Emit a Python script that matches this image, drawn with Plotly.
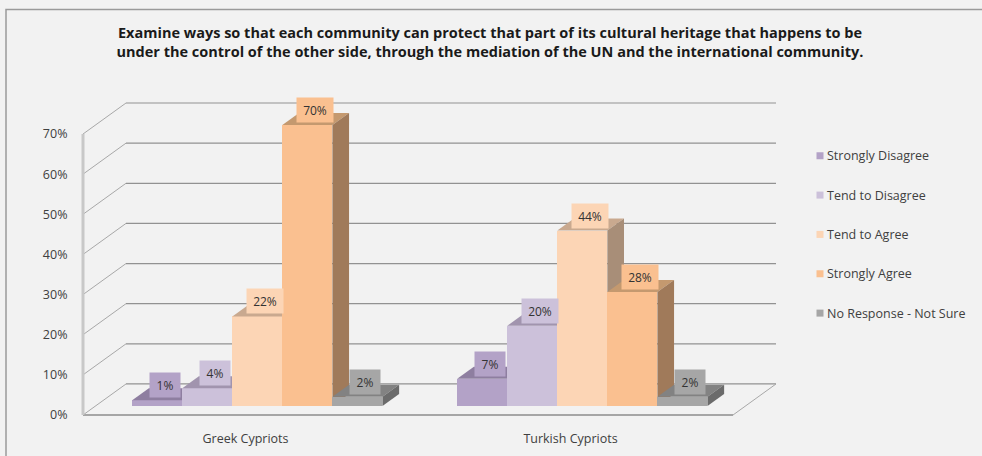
import plotly.graph_objects as go

TITLE = ("Examine ways so that each community can protect that part of its cultural heritage that happens to be<br>"
         "under the control of the other side, through the mediation of the UN and the international community.")
categories = ["Greek Cypriots", "Turkish Cypriots"]
series = ["Strongly Disagree", "Tend to Disagree", "Tend to Agree", "Strongly Agree", "No Response - Not Sure"]
strongly_disagree = [1.4, 6.8]
tend_to_disagree = [4.4, 20]
tend_to_agree = [22.3, 43.7]
strongly_agree = [70, 28.4]
no_response = [2.3, 2.3]
values = [strongly_disagree, tend_to_disagree, tend_to_agree, strongly_agree, no_response]
y_ticks = [0, 10, 20, 30, 40, 50, 60, 70]
y_tick_labels = ["0%", "10%", "20%", "30%", "40%", "50%", "60%", "70%"]

front = ["#b3a2c7", "#ccc1da", "#fcd5b5", "#fac090", "#a6a6a6"]
top = ["#8e7ea0", "#a194ae", "#c9a98f", "#c4996f", "#828282"]
side = ["#75678a", "#8b8096", "#a88e78", "#a07a5a", "#6b6b6b"]

FONT = "Open Sans"
W, H = 982, 456
L, B = 83, 415          # pixel of the front-left floor corner
PAD = 4                 # plot area kept left of / below the corner so wall lines are not clipped
RIGHT_PX = 978          # plot area runs under the legend column so its swatches are not clipped
CAT_PX = 325
PX_PER_PCT = 4.01
DX, DY = 43, 31
d_front, d_back = 9 / 31, 21 / 31
GAP = 0.113
BAR_W = (1 - 2 * 0.115) / 5
X_MIN, X_MAX = -PAD / CAT_PX, (RIGHT_PX - L) / CAT_PX
Y_MIN, Y_MAX = -PAD / PX_PER_PCT, 70 + (DY + PAD) / PX_PER_PCT
PLOT_W = (X_MAX - X_MIN) * CAT_PX
PLOT_H = (Y_MAX - Y_MIN) * PX_PER_PCT
PLOT_L = L - PAD
PLOT_T = B + PAD - PLOT_H


def proj(u, v, d):
    return u + d * DX / CAT_PX, v + d * DY / PX_PER_PCT


def px_x(px):
    return (px - L) / CAT_PX


def px_y(py):
    return (B - py) / PX_PER_PCT


def paper_x(px):
    return (px - PLOT_L) / PLOT_W


def paper_y(py):
    return (PLOT_T + PLOT_H - py) / PLOT_H


fig = go.Figure()
GRID = "#929292"
z = 0


def line(xs, ys, color=GRID, width=1.2):
    fig.add_trace(go.Scatter(x=xs, y=ys, mode="lines", line=dict(color=color, width=width),
                             hoverinfo="skip", showlegend=False, cliponaxis=False, zorder=0))


for t in y_ticks:
    p0, p1 = proj(0, t, 0), proj(0, t, 1)
    p2 = proj(2, t, 1)
    fig.add_trace(go.Scatter(x=[p0[0], p1[0]], y=[p0[1], p1[1]], mode="lines", line=dict(color="#a8a8a8", width=1),
                             hoverinfo="skip", showlegend=False, zorder=0))
    line([p1[0], p2[0]], [p1[1], p2[1]])
r0, r1 = proj(2, 0, 0), proj(2, 0, 1)
line([0, r0[0]], [0, r0[1]], "#8c8c8c", 1.4)
line([r0[0], r1[0]], [r0[1], r1[1]], "#a8a8a8", 1)
line([0, 0], [0, 70], "#c8c8c8", 3)


def poly(pts, color, z):
    fig.add_trace(go.Scatter(x=[p[0] for p in pts], y=[p[1] for p in pts], mode="lines", fill="toself",
                             fillcolor=color, line=dict(width=0, color=color), hoverinfo="skip",
                             showlegend=False, cliponaxis=False, zorder=z))


annotations = []
for c, cat in enumerate(categories):
    for s, name in enumerate(series):
        v = values[s][c]
        x0 = c + GAP + s * BAR_W
        x1 = x0 + BAR_W
        z += 1
        poly([proj(x0, v, d_front), proj(x1, v, d_front), proj(x1, v, d_back), proj(x0, v, d_back)], top[s], z)
        poly([proj(x1, 0, d_front), proj(x1, v, d_front), proj(x1, v, d_back), proj(x1, 0, d_back)], side[s], z)
        fx, fy = proj(x0, 0, d_front)
        fig.add_trace(go.Bar(x=[fx], y=[v], base=[fy], width=[BAR_W], offset=0,
                             marker=dict(color=front[s], line_width=0),
                             name=name, hovertemplate=f"{cat}<br>{name}: {v:.0f}%<extra></extra>",
                             showlegend=False, cliponaxis=False, zorder=z))
        lx, ly = proj(x0 + BAR_W / 2, v, d_front)
        annotations.append(dict(x=lx, y=ly, xref="x", yref="y", xshift=7.5, yshift=15, text=f"{v:.0f}%",
                                showarrow=False, bgcolor=front[s], width=34 if v >= 10 else 28, height=22,
                                font=dict(family=FONT, size=12, color="#333333")))

# Legend column drawn as marker + text so that spacing and swatch position match the reference
LEG_MARK_X, LEG_TEXT_X = 820, 825
LEG_Y0, LEG_STEP = 156, 39.3
for s, name in enumerate(series):
    py = LEG_Y0 + s * LEG_STEP
    fig.add_trace(go.Scatter(x=[px_x(LEG_MARK_X)], y=[px_y(py)], mode="markers", name=name,
                             marker=dict(symbol="square", size=7, color=front[s]),
                             hoverinfo="name", showlegend=False, cliponaxis=False, zorder=100))
    annotations.append(dict(x=paper_x(LEG_TEXT_X), y=paper_y(py), xref="paper", yref="paper", xanchor="left",
                            yanchor="middle", text=name, showarrow=False,
                            font=dict(family=FONT, size=12.5, color="#404040")))

fig.update_layout(
    width=W, height=H, autosize=False,
    margin=dict(l=PLOT_L, r=W - PLOT_L - PLOT_W, t=PLOT_T, b=H - PLOT_T - PLOT_H, pad=0, autoexpand=False),
    paper_bgcolor="#f2f2f2", plot_bgcolor="rgba(0,0,0,0)",
    barmode="overlay", bargap=0, showlegend=False,
    title=dict(text=TITLE, x=490 / W, xref="container", xanchor="center", y=1 - 38 / H, yanchor="middle",
               font=dict(family=FONT, size=14.5, color="#1a1a1a", weight="bold")),
    xaxis=dict(range=[X_MIN, X_MAX], tickvals=[0.5, 1.5], ticktext=categories, showgrid=False, zeroline=False,
               showline=False, ticks="outside", ticklen=8, tickcolor="rgba(0,0,0,0)",
               tickfont=dict(family=FONT, size=12.5, color="#404040")),
    yaxis=dict(range=[Y_MIN, Y_MAX], tickvals=y_ticks, ticktext=y_tick_labels, showgrid=False, zeroline=False,
               showline=False, ticks="outside", ticklen=8, tickcolor="rgba(0,0,0,0)",
               tickfont=dict(family=FONT, size=12.5, color="#404040")),
    annotations=annotations,
    shapes=[dict(type="rect", xref="paper", yref="paper", layer="below",
                 x0=paper_x(6), x1=paper_x(995), y0=paper_y(480), y1=paper_y(10),
                 line=dict(color="#9a9a9a", width=1.5), fillcolor="rgba(0,0,0,0)")],
)
fig.write_html("out.html", config=dict(displayModeBar=False),
               post_script="document.body.style.margin='0';document.body.style.overflow='hidden';")
